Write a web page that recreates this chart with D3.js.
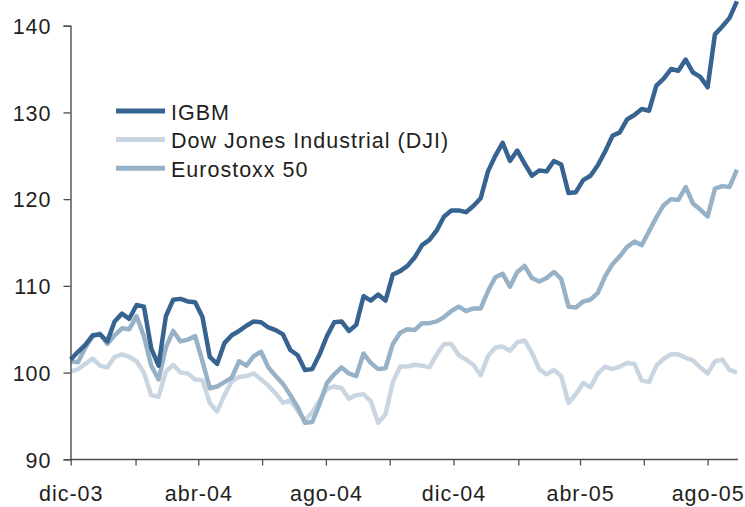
<!DOCTYPE html>
<html>
<head>
<meta charset="utf-8">
<script src="https://cdn.jsdelivr.net/npm/d3@7"></script>
<style>
  body { margin: 0; background: #fff; }
  svg { display: block; }
  text { font-family: "Liberation Sans", Arial, Helvetica, sans-serif; fill: #231f20; }
</style>
</head>
<body>
<svg id="chart" width="745" height="507"></svg>
<script>
//
// Data (weekly readings, index base 100)
//
const weeks = d3.timeMonday.range(new Date(2003, 11, 1), new Date(2005, 7, 30));

const igbm = [
  101.5, 102.4, 103.2, 104.3, 104.4, 103.6, 105.9, 106.8, 106.2, 107.8,
  107.6, 102.8, 100.8, 106.5, 108.4, 108.5, 108.2, 108.1, 106.4, 101.8,
  101.0, 103.4, 104.3, 104.8, 105.4, 105.9, 105.8, 105.2, 104.9, 104.4,
  102.6, 102.0, 100.3, 100.4, 102.1, 104.2, 105.8, 105.9, 104.8, 105.5,
  108.8, 108.3, 109.0, 108.3, 111.3, 111.7, 112.3, 113.3, 114.7, 115.3,
  116.4, 118.0, 118.7, 118.7, 118.5, 119.2, 120.1, 123.2, 125.0, 126.5,
  124.4, 125.6, 124.1, 122.7, 123.3, 123.2, 124.4, 124.0, 120.7, 120.8,
  122.2, 122.7, 123.9, 125.5, 127.3, 127.7, 129.2, 129.7, 130.4, 130.2,
  133.1, 133.9, 135.0, 134.8, 136.1, 134.6, 134.1, 132.9, 139.0, 139.9,
  140.9, 142.8
];

const dji = [
  100.1, 100.4, 101.0, 101.6, 100.8, 100.6, 101.8, 102.1, 101.8, 101.3,
  100.0, 97.4, 97.2, 100.1, 100.9, 100.0, 99.9, 99.2, 99.1, 96.5,
  95.5, 97.4, 99.0, 99.5, 99.6, 99.9, 99.2, 98.5, 97.6, 96.5,
  96.8, 95.6, 94.5, 95.4, 96.8, 98.1, 98.4, 98.2, 97.0, 97.4,
  97.5, 96.7, 94.2, 95.2, 98.9, 100.7, 100.7, 100.9, 100.8, 100.6,
  102.1, 103.3, 103.3, 102.0, 101.5, 100.9, 99.7, 101.9, 102.9, 103.0,
  102.5, 103.5, 103.7, 102.3, 100.4, 99.8, 100.3, 99.6, 96.5, 97.5,
  98.8, 98.3, 99.9, 100.7, 100.4, 100.7, 101.1, 101.0, 99.1, 98.9,
  100.8, 101.6, 102.1, 102.1, 101.7, 101.4, 100.6, 99.9, 101.3, 101.5,
  100.3, 100.0
];

const eurostoxx = [
  101.3, 101.2, 102.9, 104.2, 104.5, 103.3, 104.3, 105.1, 105.0, 106.5,
  104.2, 100.8, 99.2, 102.9, 104.8, 103.6, 103.8, 104.2, 101.3, 98.2,
  98.4, 98.9, 99.4, 101.3, 100.8, 101.9, 102.4, 100.6, 99.6, 98.7,
  97.4, 96.0, 94.2, 94.3, 96.4, 98.8, 99.8, 100.6, 99.9, 99.6,
  102.2, 101.1, 100.4, 100.5, 103.3, 104.6, 105.0, 104.9, 105.7, 105.7,
  105.9, 106.4, 107.1, 107.6, 107.1, 107.4, 107.4, 109.4, 111.0, 111.4,
  109.9, 111.6, 112.3, 110.9, 110.5, 110.9, 111.6, 110.8, 107.6, 107.5,
  108.2, 108.4, 109.2, 111.1, 112.5, 113.4, 114.5, 115.1, 114.7, 116.3,
  117.9, 119.3, 120.0, 119.9, 121.4, 119.5, 118.8, 118.0, 121.2, 121.5,
  121.4, 123.4
];

const seriesNames = ['IGBM', 'Dow Jones Industrial (DJI)', 'Eurostoxx 50'];
const seriesColors = ['#36638f', '#c9d6e1', '#97b1c6'];
const yTicks = [90, 100, 110, 120, 130, 140];
const monthNames = ['ene', 'feb', 'mar', 'abr', 'may', 'jun', 'jul', 'ago', 'sep', 'oct', 'nov', 'dic'];

//
// Scales
//
const svg = d3.select('#chart');
const x = d3.scaleTime()
    .domain([new Date(2003, 11, 1), new Date(2005, 7, 31)])
    .range([70.7, 739]);
const y = d3.scaleLinear()
    .domain([90, 140])
    .range([459.3, 25.7]);

const xTicks = d3.timeMonth.range(new Date(2003, 11, 1), new Date(2005, 8, 1))
    .filter((d, i) => i % 2 === 0);

//
// Lines
//
const line = d3.line()
    .x((d, i) => x(weeks[i]))
    .y(d => y(d));

const drawOrder = [
  {values: dji, color: seriesColors[1]},
  {values: eurostoxx, color: seriesColors[2]},
  {values: igbm, color: seriesColors[0]}
];

svg.selectAll('path.series')
  .data(drawOrder)
  .join('path')
    .attr('class', 'series')
    .attr('fill', 'none')
    .attr('stroke', d => d.color)
    .attr('stroke-width', 4.5)
    .attr('stroke-linejoin', 'round')
    .attr('d', d => line(d.values));

//
// Axes
//
const axisColor = '#4d4d4d';

const yAxis = svg.append('g')
    .attr('transform', 'translate(70.5,0)')
    .call(d3.axisLeft(y).tickValues(yTicks).tickSize(7).tickPadding(12).tickFormat(d3.format('d')));

const xAxis = svg.append('g')
    .attr('transform', 'translate(0,459.5)')
    .call(d3.axisBottom(x).tickValues(xTicks).tickSize(6).tickPadding(20)
      .tickFormat((d, i) => i % 2 === 0 ? monthNames[d.getMonth()] + '-' + String(d.getFullYear()).slice(2) : ''));

xAxis.select('.domain').attr('d', 'M' + x.range()[0] + ',0H' + (x.range()[1] - 1));

[yAxis, xAxis].forEach(g => {
  g.select('.domain').attr('stroke', axisColor).attr('stroke-width', 1.4);
  g.selectAll('.tick line').attr('stroke', axisColor).attr('stroke-width', 1.3);
  g.selectAll('.tick text')
    .attr('fill', '#231f20')
    .style('font-size', '21.5px')
    .style('letter-spacing', '1px')
    .style('font-family', '"Liberation Sans", Arial, sans-serif');
});
yAxis.selectAll('.tick text').attr('x', -19).attr('dy', '0.36em');
xAxis.selectAll('.tick text').attr('dy', 0).attr('y', 41.5);

//
// Legend
//
const legend = svg.append('g');
const legendRows = [111, 139.5, 168.3];

seriesNames.forEach((name, i) => {
  legend.append('line')
      .attr('x1', 116).attr('x2', 165)
      .attr('y1', legendRows[i]).attr('y2', legendRows[i])
      .attr('stroke', seriesColors[i])
      .attr('stroke-width', 5);
  legend.append('text')
      .attr('x', 171)
      .attr('y', legendRows[i] + 8.5)
      .style('font-size', '21.5px')
      .style('letter-spacing', '1px')
      .text(name);
});
</script>
</body>
</html>
